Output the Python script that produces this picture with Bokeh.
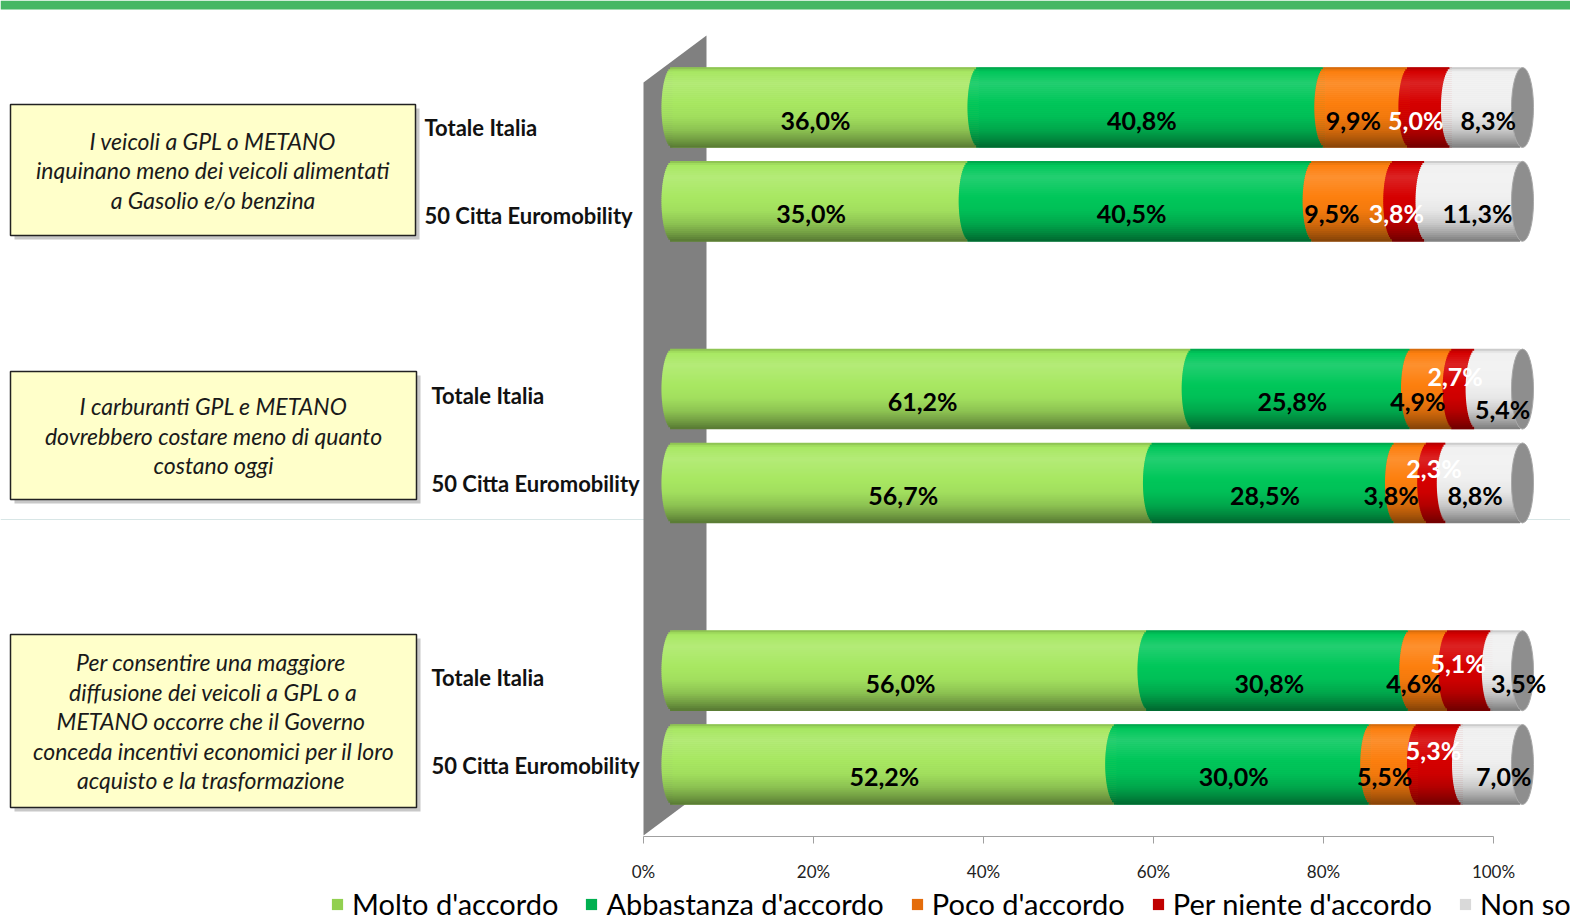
import math
from bokeh.plotting import figure
from bokeh.models import Range1d, Legend, LegendItem, FixedTicker, PrintfTickFormatter, Span
from bokeh.core.properties import value
from bokeh.embed import file_html
from bokeh.resources import INLINE

# ---------------- data ----------------
statements = [
    ["I veicoli a GPL o METANO", "inquinano meno dei veicoli alimentati", "a Gasolio e/o benzina"],
    ["I carburanti GPL e METANO", "dovrebbero costare meno di quanto", "costano oggi"],
    ["Per  consentire una maggiore", "diffusione dei veicoli a GPL o a",
     "METANO  occorre che il Governo", "conceda incentivi economici per il loro",
     "acquisto  e la trasformazione"],
]
row_labels = ["Totale Italia", "50 Citta Euromobility",
              "Totale Italia", "50 Citta Euromobility",
              "Totale Italia", "50 Citta Euromobility"]
row_slots = [0, 1, 3, 4, 6, 7]          # category positions (blank categories between groups)
series = ["Molto d'accordo", "Abbastanza d'accordo", "Poco d'accordo",
          "Per niente d'accordo", "Non so"]
molto      = [36.0, 35.0, 61.2, 56.7, 56.0, 52.2]
abbastanza = [40.8, 40.5, 25.8, 28.5, 30.8, 30.0]
poco       = [9.9, 9.5, 4.9, 3.8, 4.6, 5.5]
per_niente = [5.0, 3.8, 2.7, 2.3, 5.1, 5.3]
non_so     = [8.3, 11.3, 5.4, 8.8, 3.5, 7.0]
ticks = [0, 20, 40, 60, 80, 100]

# ---------------- styles / layout ----------------
bar_colors = ["#A8E862", "#00C75A", "#FD7F0E", "#D60000", "#F0F0F0"]
legend_colors = ["#92D050", "#00B050", "#E46C0A", "#C00000", "#D9D9D9"]
label_colors = ["black", "black", "black", "white", "black"]
# per-label nudges (pixels) : (dx, dy) for each row/segment
nudges = [
    [(0, 0), (0, 0), (-4, 0), (-5, 0), (11, 0)],
    [(0, 0), (0, 0), (-12, 0), (-4, 0), (13, 0)],
    [(0, 0), (0, 0), (-5, 0), (0, -25), (13, 8)],
    [(0, 0), (0, 0), (-11, 0), (6, -27), (0, 0)],
    [(0, 0), (0, 0), (-6, 0), (-3, -20), (21, 0)],
    [(0, 0), (0, 0), (0, 0), (3, -26), (21, 0)],
]
cat_nudge = [20, 14, 6, 1, 7, 1]
cat_x_px = [424, 424, 431, 431, 431, 431]

W, H = 1570, 921
AXIS_PX = 836       # y of the category axis line
PX = 8.5            # px per percent
X0_PX = 643         # x of 0%
ROW_PX = 93.857     # px per category slot
ROW0_PX = 107       # y of slot 0


def xd(px):
    return (px - X0_PX) / PX


def yd(py):
    return (py - ROW0_PX) / ROW_PX


SHIFT = 29 / PX          # 3D depth offset of the bars
BAR_H = 80 / ROW_PX
CAP_A = 11 / PX          # half width of the cylinder caps


def shade(hexc, f):
    pts = [(0.0, 0.80), (0.05, 1.0), (0.2, 1.07), (0.45, 1.0), (0.62, 0.96),
           (0.78, 0.84), (0.9, 0.68), (1.0, 0.52)]
    v = pts[-1][1]
    for (f0, v0), (f1, v1) in zip(pts[:-1], pts[1:]):
        if f0 <= f <= f1:
            v = v0 + (v1 - v0) * (f - f0) / (f1 - f0)
            break
    r, g, b = int(hexc[1:3], 16), int(hexc[3:5], 16), int(hexc[5:7], 16)
    out = []
    for c in (r, g, b):
        if v >= 1:
            c = c + (255 - c) * (v - 1) * 2
        else:
            c = c * v
        out.append(max(0, min(255, int(round(c)))))
    return "#%02x%02x%02x" % tuple(out)


values = [molto, abbastanza, poco, per_niente, non_so]
starts, ends = [], []
for r in range(6):
    tot = sum(values[s][r] for s in range(5))
    acc = 0.0
    st, en = [], []
    for s in range(5):
        share = values[s][r] / tot * 100
        st.append(acc)
        acc += share
        en.append(acc)
    starts.append(st)
    ends.append(en)

p = figure(width=W, height=H, output_backend="svg", toolbar_location=None,
           x_range=Range1d(xd(0), xd(W)), y_range=Range1d(yd(H), yd(0)),
           y_axis_location=None, min_border_left=0, min_border_right=0,
           min_border_top=0, min_border_bottom=0)
p.grid.visible = False
p.outline_line_color = None
p.background_fill_color = "white"
p.border_fill_color = "white"

# top green strip (slide decoration)
p.quad(left=[xd(0)], right=[xd(W)], top=[yd(0)], bottom=[yd(9)],
       fill_color="#46B764", line_color=None)

# faint slide line
p.add_layout(Span(location=yd(519), dimension="width", line_color="#D8E6E6",
                  line_width=1, level="underlay"))

# back wall of the 3D chart
wall_x = [xd(643), xd(706), xd(706), xd(643)]
wall_y = [yd(82), yd(35), yd(788), yd(835)]
p.patch(wall_x, wall_y, fill_color="#808080", line_color=None)

# base segments (used for legend)
base = []
for s in range(5):
    r_ = p.hbar(y=row_slots, left=[SHIFT + starts[r][s] for r in range(6)],
                right=[SHIFT + ends[r][s] for r in range(6)], height=BAR_H,
                fill_color=legend_colors[s], line_color=None)
    base.append(r_)

# shaded cylinder strips
NS = 40
for j in range(NS):
    f = (j + 0.5) / NS
    t = 2 * f - 1
    sh = CAP_A * math.sqrt(max(0.0, 1 - t * t))
    ys, ls, rs, cs = [], [], [], []
    for r in range(6):
        for s in range(5):
            ys.append(row_slots[r] - BAR_H / 2 + f * BAR_H)
            ls.append(SHIFT + starts[r][s] - sh)
            rs.append(SHIFT + ends[r][s] - sh)
            cs.append(shade(bar_colors[s], f))
    p.hbar(y=ys, left=ls, right=rs, height=BAR_H / NS * 1.3,
           fill_color=cs, line_color=None)

# end caps
p.ellipse(x=[SHIFT + ends[r][4] for r in range(6)], y=row_slots,
          width=2 * CAP_A, height=BAR_H, fill_color="#8E8E8E",
          line_color="#A8A8A8", line_width=1)

# value labels
lx, ly, lt, lc, lxo, lyo = [], [], [], [], [], []
for r in range(6):
    for s in range(5):
        v = values[s][r]
        lx.append(SHIFT + (starts[r][s] + ends[r][s]) / 2)
        ly.append(row_slots[r])
        lt.append(("%.1f" % v).replace(".", ",") + "%")
        lc.append(label_colors[s])
        lxo.append(-10 + nudges[r][s][0])
        lyo.append(12 + nudges[r][s][1])
p.text(x=lx, y=ly, text=lt, text_color=lc, x_offset=lxo, y_offset=lyo,
       text_font=value("Lato"), text_font_style="bold", text_font_size="25px",
       text_align="center", text_baseline="middle")

# category labels
p.text(x=[xd(px) for px in cat_x_px], y=row_slots, text=row_labels,
       y_offset=cat_nudge, text_color="#111111", text_font=value("Lato"),
       text_font_style="bold", text_font_size="22px", text_align="left",
       text_baseline="middle")

# statement boxes
boxes = [(10, 104, 415, 235), (10, 371, 416, 499), (10, 634, 416, 807)]
for (x0, y0, x1, y1), lines in zip(boxes, statements):
    p.quad(left=[xd(x0 + 4)], right=[xd(x1 + 4)], top=[yd(y0 + 4)], bottom=[yd(y1 + 4)],
           fill_color="#9A9A9A", fill_alpha=0.55, line_color=None)
    p.quad(left=[xd(x0)], right=[xd(x1)], top=[yd(y0)], bottom=[yd(y1)],
           fill_color="#FFFFCA", line_color="#222222", line_width=1.5)
    cy = (y0 + y1) / 2
    n = len(lines)
    ypos = [yd(cy + (k - (n - 1) / 2) * 29.5) for k in range(n)]
    p.text(x=[xd((x0 + x1) / 2)] * n, y=ypos, text=lines, text_color="#1A1A1A",
           text_font=value("Lato"), text_font_style="italic", text_font_size="23px",
           text_align="center", text_baseline="middle")

# x axis (drawn at the floor of the 3D chart)
ax = p.xaxis[0]
ax.fixed_location = yd(AXIS_PX)
ax.ticker = FixedTicker(ticks=ticks)
ax.formatter = PrintfTickFormatter(format="%d%%")
ax.bounds = (0, 100)
ax.axis_line_color = "#A0A0A0"
ax.major_tick_line_color = "#A0A0A0"
ax.major_tick_out = 7
ax.major_tick_in = 0
ax.minor_tick_line_color = None
ax.major_label_text_font = "Lato"
ax.major_label_text_font_size = "17px"
ax.major_label_text_color = "#222222"
ax.major_label_standoff = 17

# legend
items = [LegendItem(label=series[s], renderers=[base[s]]) for s in range(5)]
legend = Legend(items=items, orientation="horizontal", location=(330, 0),
                glyph_width=14, glyph_height=14, label_standoff=8, spacing=26,
                padding=0, margin=0, border_line_color=None,
                background_fill_alpha=0, label_text_font="Lato",
                label_text_font_size="29px", label_text_color="black")
p.add_layout(legend)

open("out.html", "w").write(file_html(p, INLINE))
